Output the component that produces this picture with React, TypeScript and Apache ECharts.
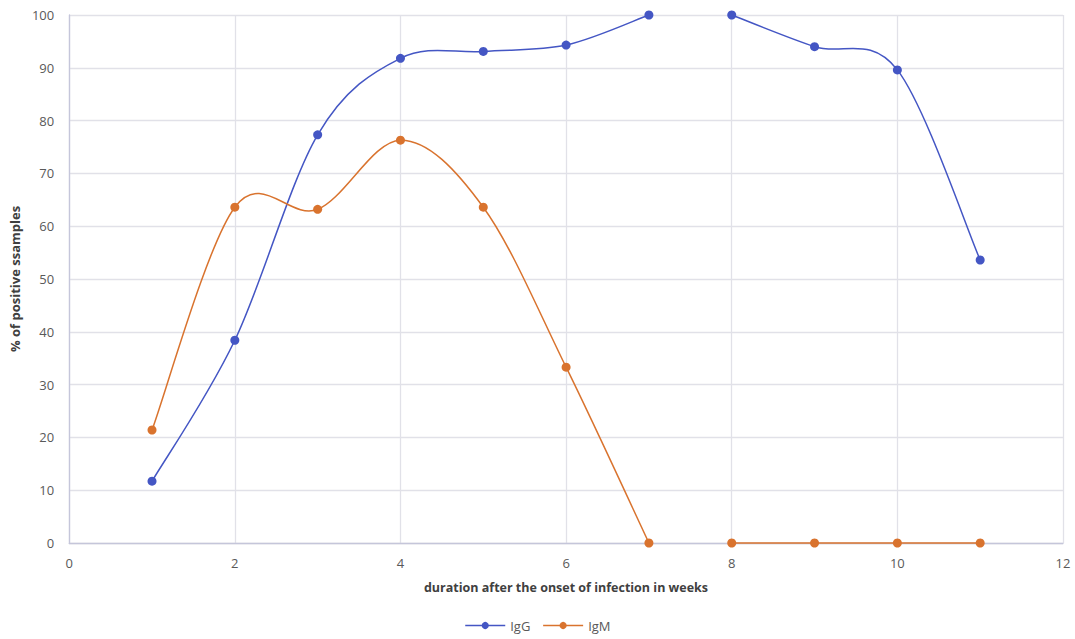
import React, { useEffect, useRef } from "react";
import * as echarts from "echarts";

const weeksA = [1, 2, 3, 4, 5, 6, 7];
const weeksB = [8, 9, 10, 11];
const igGA = [11.7, 38.4, 77.3, 91.8, 93.1, 94.3, 100];
const igGB = [100, 94.0, 89.6, 53.6];
const igMA = [21.4, 63.6, 63.2, 76.3, 63.6, 33.3, 0];
const igMB = [0, 0, 0, 0];
const xTicks = { min: 0, max: 12, interval: 2 };
const yTicks = { min: 0, max: 100, interval: 10 };

const BLUE = "#4456C4";
const ORANGE = "#D9732E";
const FONT = "'Open Sans', 'Noto Sans', sans-serif";

function pairs(xs: number[], ys: number[]) {
  return xs.map((x, i) => [x, ys[i]]);
}

// Excel-like smooth curve (Catmull-Rom as cubic Bezier), drawn through the chart's own coordinate system
function curveSeries(name: string, color: string, data: number[][]) {
  return {
    name,
    type: "custom",
    data,
    silent: true,
    z: 1,
    renderItem: (params: any, api: any) => {
      const i = params.dataIndex;
      if (i >= data.length - 1) return null;
      const pt = (k: number) => {
        const kk = Math.max(0, Math.min(data.length - 1, k));
        return api.coord(data[kk]);
      };
      const p0 = pt(i - 1);
      const p1 = pt(i);
      const p2 = pt(i + 1);
      const p3 = pt(i + 2);
      return {
        type: "bezierCurve",
        shape: {
          x1: p1[0],
          y1: p1[1],
          x2: p2[0],
          y2: p2[1],
          cpx1: p1[0] + (p2[0] - p0[0]) / 6,
          cpy1: p1[1] + (p2[1] - p0[1]) / 6,
          cpx2: p2[0] - (p3[0] - p1[0]) / 6,
          cpy2: p2[1] - (p3[1] - p1[1]) / 6,
        },
        style: { stroke: color, lineWidth: 1.5, fill: "none" },
      };
    },
  };
}

export default function App() {
  const ref = useRef<HTMLDivElement>(null);
  useEffect(() => {
    if (!ref.current) return;
    const chart = echarts.init(ref.current, undefined, { renderer: "svg" });
    const markerSeries = (name: string, color: string, data: number[][]) => ({
      name,
      type: "line",
      data,
      symbol: "circle",
      symbolSize: 9,
      z: 3,
      itemStyle: { color },
      lineStyle: { color, width: 0, opacity: 0 },
    });
    chart.setOption({
      animation: false,
      textStyle: { fontFamily: FONT },
      grid: { left: 67, right: 12, top: 15, bottom: 96 },
      xAxis: {
        type: "value",
        ...xTicks,
        axisLine: { show: true, lineStyle: { color: "#C5C6DA", width: 1.3 } },
        axisTick: { show: false },
        splitLine: { show: true, lineStyle: { color: "#E1E1E8", width: 1.3 } },
        axisLabel: { color: "#595959", fontSize: 13, margin: 13, fontFamily: FONT },
      },
      yAxis: {
        type: "value",
        ...yTicks,
        name: "% of positive ssamples",
        nameLocation: "middle",
        nameGap: 42,
        nameTextStyle: { color: "#404040", fontSize: 13, fontWeight: "bold", fontFamily: FONT },
        axisLine: { show: true, lineStyle: { color: "#C5C6DA", width: 1.3 } },
        axisTick: { show: false },
        splitLine: { show: true, lineStyle: { color: "#E1E1E8", width: 1.3 } },
        axisLabel: { color: "#595959", fontSize: 13, margin: 15, fontFamily: FONT },
      },
      legend: {
        bottom: 2,
        left: "center",
        data: ["IgG", "IgM"],
        itemWidth: 40,
        itemHeight: 9,
        itemGap: 12,
        lineStyle: { width: 1.5, opacity: 1 },
        textStyle: { color: "#595959", fontSize: 13, fontFamily: FONT },
      },
      graphic: [
        {
          type: "text",
          x: 566,
          y: 587,
          style: {
            text: "duration after the onset of infection in weeks",
            fill: "#404040",
            font: `bold 12.5px ${FONT}`,
            textAlign: "center",
            textVerticalAlign: "middle",
          },
        },
      ],
      series: [
        markerSeries("IgG", BLUE, pairs(weeksA, igGA)),
        markerSeries("IgG", BLUE, pairs(weeksB, igGB)),
        markerSeries("IgM", ORANGE, pairs(weeksA, igMA)),
        markerSeries("IgM", ORANGE, pairs(weeksB, igMB)),
        curveSeries("IgG", BLUE, pairs(weeksA, igGA)),
        curveSeries("IgG", BLUE, pairs(weeksB, igGB)),
        curveSeries("IgM", ORANGE, pairs(weeksA, igMA)),
        curveSeries("IgM", ORANGE, pairs(weeksB, igMB)),
      ],
    });
    return () => chart.dispose();
  }, []);
  return <div ref={ref} style={{ width: 1075, height: 639, position: "absolute", left: 0, top: 0 }} />;
}
